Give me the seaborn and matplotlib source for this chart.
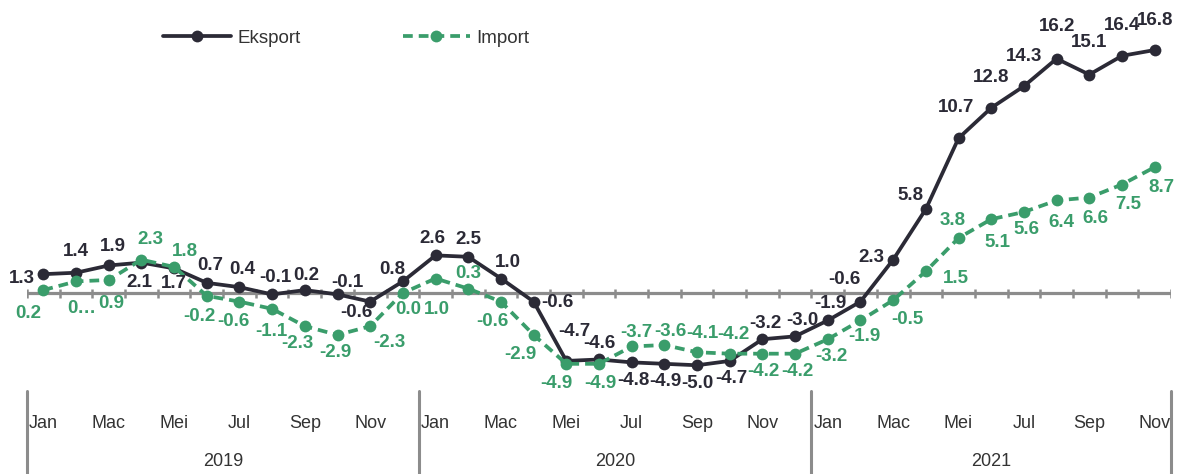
import matplotlib
matplotlib.use("Agg")
import matplotlib.pyplot as plt
import matplotlib.transforms as mtransforms
from matplotlib.lines import Line2D
import seaborn as sns
import pandas as pd

# %%
years = ["2019", "2020", "2021"]
months_per_year = [12, 12, 11]
month_names = ["Jan", "Feb", "Mac", "Apr", "Mei", "Jun", "Jul", "Ogo", "Sep", "Okt", "Nov", "Dis"]

eksport = [1.3, 1.4, 1.9, 2.1, 1.7, 0.7, 0.4, -0.1, 0.2, -0.1, -0.6, 0.8,
           2.6, 2.5, 1.0, -0.6, -4.7, -4.6, -4.8, -4.9, -5.0, -4.7, -3.2, -3.0,
           -1.9, -0.6, 2.3, 5.8, 10.7, 12.8, 14.3, 16.2, 15.1, 16.4, 16.8]
importv = [0.2, 0.8, 0.9, 2.3, 1.8, -0.2, -0.6, -1.1, -2.3, -2.9, -2.3, 0.0,
           1.0, 0.3, -0.6, -2.9, -4.9, -4.9, -3.7, -3.6, -4.1, -4.2, -4.2, -4.2,
           -3.2, -1.9, -0.5, 1.5, 3.8, 5.1, 5.6, 6.4, 6.6, 7.5, 8.7]

# label placement (pixel offsets, screen y down)
eks_off = [(-21, 4), (0, -21), (4, -19), (-2, 20), (0, 15), (3, -17), (3, -18), (3, -17),
           (1, -15), (10, -12), (-14, 11), (-11, -12),
           (-3, -17), (0, -17), (7, -16), (24, 1), (8, -29), (0, -16), (2, 18), (1, 18),
           (0, 18), (2, 18), (3, -16), (7, -16),
           (3, -17), (-16, -22), (-22, -2), (-15, -14), (-2, -31), (0, -30), (0, -30),
           (0, -32), (0, -32), (0, -30), (0, -30)]
imp_off = [(-15, 23), (6, 27), (3, 24), (9, -20), (11, -15), (-7, 21), (-6, 20), (-1, 23),
           (-7, 17), (-2, 18), (19, 16), (5, 17),
           (1, 31), (0, -15), (-9, 20), (-13, 20), (-10, 20), (1, 20), (5, -14), (6, -14),
           (5, -19), (4, -19), (1, 18), (2, 18),
           (4, 17), (4, 16), (14, 19), (30, 7), (-6, -18), (6, 23), (3, 18), (5, 22),
           (6, 21), (6, 20), (7, 20)]

c_eks = "#2b2a36"
c_imp = "#3a9d6b"
c_axis = "#8c8c8c"
c_text = "#333333"

# %%
month_seq = [month_names[m] for n in months_per_year for m in range(n)]
n = len(eksport)
df = pd.DataFrame({
    "x": list(range(n)) * 2,
    "value": eksport + importv,
    "series": ["Eksport"] * n + ["Import"] * n,
})

sns.set_style("white")
plt.rcParams["font.family"] = ["Liberation Sans Narrow", "Liberation Sans", "DejaVu Sans"]

fig = plt.figure(figsize=(11.94, 4.74), dpi=100)
ax = fig.add_axes([27 / 1194, 83 / 474, 1144 / 1194, 391 / 474])

sns.lineplot(data=df, x="x", y="value", hue="series", style="series",
             palette={"Eksport": c_eks, "Import": c_imp},
             dashes={"Eksport": "", "Import": (2.6, 1.6)},
             markers={"Eksport": "o", "Import": "o"},
             markersize=8.5, markeredgewidth=0, linewidth=2.7,
             legend=False, ax=ax, zorder=3)

ax.set_xlim(-0.5, n - 0.5)
ax.set_ylim(-6.78, 20.26)
for s in ax.spines.values():
    s.set_visible(False)

# zero line with boundary ticks
bounds = [i - 0.5 for i in range(n + 1)]
ax.axhline(0, color=c_axis, lw=2.3, zorder=1)
ax.vlines(bounds, -0.35, 0.3, color=c_axis, lw=1.8, zorder=1)

# category axis at the bottom
ax.set_xticks(bounds)
ax.set_xticklabels([])
ax.tick_params(axis="x", which="major", length=6.5, width=1.6, color=c_axis, direction="out")
ax.set_xticks(list(range(n)), minor=True)
ax.set_xticklabels([m if i % 2 == 0 else "" for i, m in enumerate(month_seq)], minor=True)
ax.tick_params(axis="x", which="minor", length=0, pad=17, labelsize=13, labelcolor=c_text)
ax.set_yticks([])
ax.set_xlabel("")
ax.set_ylabel("")

trans = mtransforms.blended_transform_factory(ax.transData, fig.transFigure)
start = 0
edges = [-0.5]
for y, cnt in zip(years, months_per_year):
    start += cnt
    edges.append(start - 0.5)
for e in edges:
    ax.plot([e, e], [83 / 474, 0], transform=trans, color=c_axis, lw=2.2, clip_on=False)
for y, a, b in zip(years, edges[:-1], edges[1:]):
    ax.text((a + b) / 2, 12 / 474, y, transform=trans, ha="center", va="center",
            fontsize=13, color=c_text)

# data labels
for i, v in enumerate(eksport):
    dx, dy = eks_off[i]
    ax.annotate(f"{v:.1f}", (i, v), xytext=(dx, -dy), textcoords="offset pixels",
                ha="center", va="center", fontsize=13.5, fontweight="bold", color=c_eks)
imp_text = [f"{v:.1f}" for v in importv]
imp_text[1] = "0…"  # clipped in the source chart
for i, v in enumerate(importv):
    dx, dy = imp_off[i]
    ax.annotate(imp_text[i], (i, v), xytext=(dx, -dy), textcoords="offset pixels",
                ha="center", va="center", fontsize=13.5, fontweight="bold", color=c_imp)

handles = [
    Line2D([], [], color=c_eks, lw=2.7, marker="o", markersize=8.5, markeredgewidth=0),
    Line2D([], [], color=c_imp, lw=2.7, marker="o", markersize=8.5, markeredgewidth=0,
           dashes=(2.6, 1.6)),
]
fig.legend(handles, ["Eksport", "Import"], ncol=2, loc="center left",
           bbox_to_anchor=(163 / 1194, 1 - 38 / 474), frameon=False, fontsize=13.5,
           handlelength=3.6, handletextpad=0.35, columnspacing=5.45,
           borderpad=0, borderaxespad=0, labelcolor=c_text)

fig.savefig("out.png", dpi=100)
